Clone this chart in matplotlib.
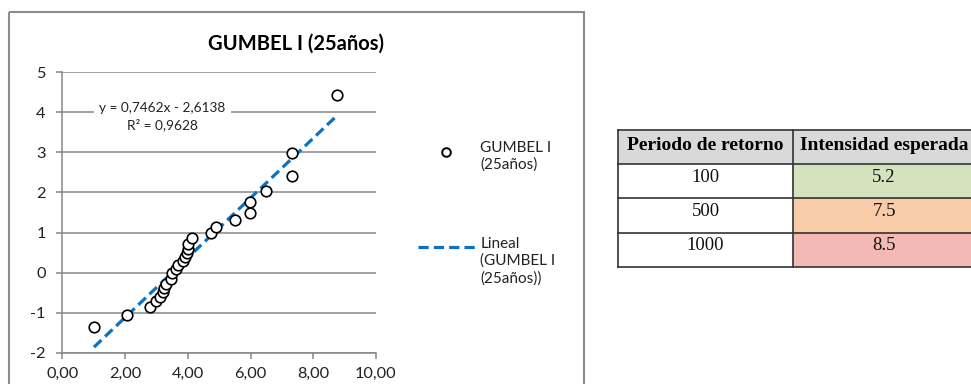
import matplotlib
matplotlib.use("Agg")
import matplotlib.pyplot as plt
from matplotlib.patches import Rectangle
from matplotlib.lines import Line2D
import numpy as np

plt.rcParams['font.family'] = ['Lato', 'DejaVu Sans']
plt.rcParams['axes.unicode_minus'] = False

# ---------------- data ----------------
x_vals = [1.01, 2.05, 2.78, 3.00, 3.10, 3.20, 3.25, 3.30, 3.45, 3.50,
          3.62, 3.70, 3.85, 3.92, 3.97, 4.00, 4.02, 4.12, 4.75, 4.90,
          5.49, 5.97, 5.97, 6.50, 7.33, 7.33, 8.75]
y_vals = [-1.35, -1.05, -0.85, -0.72, -0.60, -0.48, -0.38, -0.28, -0.15, -0.02,
          0.10, 0.18, 0.28, 0.38, 0.48, 0.60, 0.72, 0.86, 1.00, 1.15,
          1.31, 1.50, 1.75, 2.03, 2.42, 2.99, 4.44]
slope = 0.7462
intercept = -2.6138
r2 = 0.9628
title = "GUMBEL I (25años)"
series_label = "GUMBEL I\n(25años)"
trend_label = "Lineal\n(GUMBEL I\n(25años))"
x_ticks = [0, 2, 4, 6, 8, 10]
x_ticklabels = ["0,00", "2,00", "4,00", "6,00", "8,00", "10,00"]
y_ticks = [-2, -1, 0, 1, 2, 3, 4, 5]

table_header = ["Periodo de retorno", "Intensidad esperada"]
periods = ["100", "500", "1000"]
intensities = ["5.2", "7.5", "8.5"]
intensity_colors = ["#d4e3be", "#f8cca8", "#f2b9b5"]

# ---------------- figure ----------------
W, H = 971, 384
fig = plt.figure(figsize=(W / 100, H / 100), dpi=100)
fig.patch.set_facecolor("white")

# overlay axes in pixel coords (frame, legend, table)
ov = fig.add_axes([0, 0, 1, 1], zorder=0)
ov.set_xlim(0, W)
ov.set_ylim(H, 0)
ov.axis("off")

# chart outer frame
ov.add_patch(Rectangle((9, 12), 575, 400, fill=False, edgecolor="#8c8c8c", lw=1.5))

# main axes
grid_c = "#868686"
ax = fig.add_axes([62.3 / W, 1 - 352.7 / H, (376 - 62.3) / W, (352.7 - 72.3) / H], zorder=2)
ax.set_xlim(0, 10)
ax.set_ylim(-2, 5)
ax.patch.set_alpha(0)
for s in ["top", "right"]:
    ax.spines[s].set_visible(False)
for s in ["left", "bottom"]:
    ax.spines[s].set_color(grid_c)
    ax.spines[s].set_linewidth(1.1)
ax.set_xticks(x_ticks)
ax.set_xticklabels(x_ticklabels)
ax.set_yticks(y_ticks)
ax.yaxis.grid(True, color=grid_c, lw=1.1)
ax.set_axisbelow(True)
ax.tick_params(axis="both", direction="out", length=4, width=1.1, color=grid_c,
               labelsize=11.8, labelcolor="#222222")
ax.tick_params(axis="y", pad=8)
ax.tick_params(axis="x", pad=6)

# trendline
xt = np.array([min(x_vals), max(x_vals)])
ax.plot(xt, slope * xt + intercept, color="#0a72c2", lw=2.3, ls=(0, (3.2, 1.6)),
        zorder=3, solid_capstyle="butt", dash_capstyle="butt")
# points
ax.plot(x_vals, y_vals, ls="none", marker="o", ms=7.6, mfc="white", mec="black",
        mew=1.2, zorder=4)

# equation
eq = f"y = {slope:.4f}x - {abs(intercept):.4f}".replace(".", ",") + "\n" + \
     f"R² = {r2:.4f}".replace(".", ",")
fig.text(162.5 / W, 1 - 117.0 / H, eq, ha="center", va="center", fontsize=9.8,
         color="#222222", linespacing=1.4, zorder=5,
         bbox=dict(facecolor="white", edgecolor="none", pad=4))

# title
fig.text(296 / W, 1 - 43.5 / H, title, ha="center", va="center", fontsize=14.5,
         fontweight="bold", color="black")

# legend (manual)
ov.plot([446.4], [151.7], marker="o", ms=6.2, mfc="white", mec="black", mew=1.4)
ov.add_line(Line2D([418, 475], [247.3, 247.3], color="#0a72c2", lw=2.3,
                   ls=(0, (3.2, 1.6))))
ov.text(480.4, 141, series_label, ha="left", va="top", fontsize=11,
        color="#222222", linespacing=1.25)
ov.text(480.4, 237, trend_label, ha="left", va="top", fontsize=11,
        color="#222222", linespacing=1.25)

# table
tx0, tdiv, tx1 = 618, 793, 975
row_edges = [130, 164, 198, 233, 267]
ov.add_patch(Rectangle((tx0, row_edges[0]), tx1 - tx0, row_edges[1] - row_edges[0],
                       facecolor="#d9d9d9", edgecolor="none"))
for i, c in enumerate(intensity_colors):
    ov.add_patch(Rectangle((tdiv, row_edges[i + 1]), tx1 - tdiv,
                           row_edges[i + 2] - row_edges[i + 1],
                           facecolor=c, edgecolor="none"))
for yy in row_edges:
    ov.plot([tx0, tx1], [yy, yy], color="#333333", lw=1.2)
for xx in [tx0, tdiv, tx1]:
    ov.plot([xx, xx], [row_edges[0], row_edges[-1]], color="#333333", lw=1.2)

serif = ["Liberation Serif", "DejaVu Serif"]
ov.text((tx0 + tdiv) / 2, 146, table_header[0], ha="center", va="center",
        fontsize=14, fontweight="bold", family=serif, color="black")
ov.text((tdiv + tx1) / 2, 146, table_header[1], ha="center", va="center",
        fontsize=14, fontweight="bold", family=serif, color="black")
for i in range(len(periods)):
    yc = (row_edges[i + 1] + row_edges[i + 2]) / 2 - 4
    ov.text((tx0 + tdiv) / 2, yc, periods[i], ha="center", va="center",
            fontsize=13.5, family=serif, color="#111111")
    ov.text((tdiv + tx1) / 2, yc, intensities[i], ha="center", va="center",
            fontsize=13.5, family=serif, color="#111111")

fig.savefig("out.png", dpi=100)
